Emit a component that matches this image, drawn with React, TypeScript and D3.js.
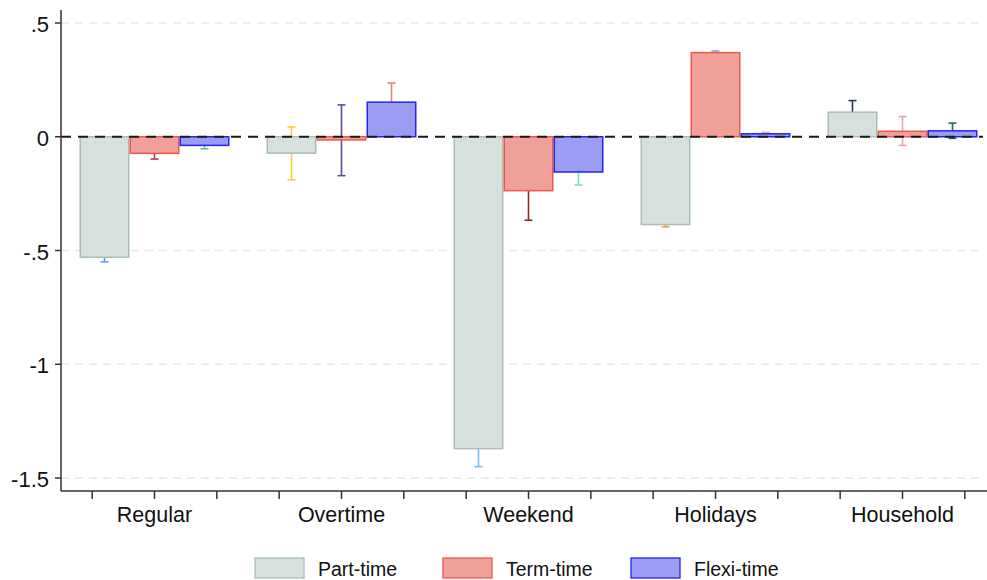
import React from "react";
import * as d3 from "d3";

const categories = ["Regular", "Overtime", "Weekend", "Holidays", "Household"];
const seriesNames = ["Part-time", "Term-time", "Flexi-time"];

const partTime = [-0.53, -0.072, -1.371, -0.386, 0.108];
const termTime = [-0.073, -0.014, -0.237, 0.37, 0.024];
const flexiTime = [-0.038, 0.152, -0.155, 0.013, 0.026];

const partLo = [-0.55, -0.189, -1.45, -0.396, 0.057];
const partHi = [-0.51, 0.043, -1.292, -0.376, 0.159];
const termLo = [-0.098, -0.171, -0.367, 0.363, -0.038];
const termHi = [-0.048, 0.14, -0.107, 0.377, 0.089];
const flexiLo = [-0.053, 0.068, -0.212, 0.007, -0.007];
const flexiHi = [-0.023, 0.236, -0.098, 0.019, 0.06];

const yTicks = [0.5, 0, -0.5, -1, -1.5];
const yTickLabels = [".5", "0", "-.5", "-1", "-1.5"];

const seriesValues = [partTime, termTime, flexiTime];
const seriesLo = [partLo, termLo, flexiLo];
const seriesHi = [partHi, termHi, flexiHi];

const fills = ["#d6e0dd", "#f0a099", "#9b9cf3"];
const strokes = ["#aabdb6", "#e95a4c", "#2424ee"];
// error bar colours, per series then per category
const ciColors = [
  ["#5b9cf5", "#f6d03e", "#78c2f7", "#e9a24c", "#27385a"],
  ["#c0394f", "#5c4a9c", "#8b2a2a", "#9a9ae6", "#f0a0b4"],
  ["#5fc690", "#f0806a", "#7ae8b6", "#f0a890", "#2c5c66"],
];

const FONT = "'Liberation Sans', Arial, Helvetica, sans-serif";

export default function App() {
  const W = 987;
  const H = 580;
  const axisX = 61;
  const x = d3
    .scaleBand<string>()
    .domain(categories)
    .range([61, 996])
    .paddingInner(37 / 187)
    .paddingOuter(37 / 187 / 2);
  const xs = d3.scaleBand<string>().domain(seriesNames).range([0, x.bandwidth()]);
  const y = d3.scaleLinear().domain([-1.5, 0.5]).range([478, 23]);
  const yTop = y(0.557);
  const yBot = y(-1.557);
  const step = x.step();
  const capW = 8;

  const tickXs: number[] = [];
  categories.forEach((c) => {
    const cx = (x(c) as number) + x.bandwidth() / 2;
    tickXs.push(cx - step / 3, cx, cx + step / 3);
  });

  return (
    <svg
      width={W}
      height={H}
      style={{ position: "absolute", left: 0, top: 0, background: "#fff" }}
      fontFamily={FONT}
    >
      <rect x={0} y={0} width={W} height={H} fill="#fff" />
      {/* gridlines */}
      {yTicks
        .filter((t) => t !== 0)
        .map((t) => (
          <line
            key={"g" + t}
            x1={axisX}
            x2={980}
            y1={y(t)}
            y2={y(t)}
            stroke="#e8e8e8"
            strokeWidth={1.3}
            strokeDasharray="8,6"
          />
        ))}
      {/* error bars */}
      {seriesNames.map((s, si) =>
        categories.map((c, ci) => {
          const cx = (x(c) as number) + (xs(s) as number) + xs.bandwidth() / 2;
          const lo = y(seriesLo[si][ci]);
          const hi = y(seriesHi[si][ci]);
          const col = ciColors[si][ci];
          return (
            <g key={"e" + si + ci} stroke={col} strokeWidth={1.6}>
              <line x1={cx} x2={cx} y1={lo} y2={hi} />
              <line x1={cx - capW / 2} x2={cx + capW / 2} y1={lo} y2={lo} />
              <line x1={cx - capW / 2} x2={cx + capW / 2} y1={hi} y2={hi} />
            </g>
          );
        })
      )}
      {/* bars */}
      {seriesNames.map((s, si) =>
        categories.map((c, ci) => {
          const v = seriesValues[si][ci];
          const bx = (x(c) as number) + (xs(s) as number);
          const y0 = y(0);
          const y1 = y(v);
          return (
            <rect
              key={"b" + si + ci}
              x={bx + 0.75}
              y={Math.min(y0, y1)}
              width={xs.bandwidth() - 1.5}
              height={Math.max(Math.abs(y1 - y0), 1)}
              fill={fills[si]}
              stroke={strokes[si]}
              strokeWidth={1.5}
            />
          );
        })
      )}
      {/* zero line */}
      <line
        x1={axisX}
        x2={983}
        y1={y(0)}
        y2={y(0)}
        stroke="#1a1a1a"
        strokeWidth={2}
        strokeDasharray="10,7"
      />
      {/* y axis */}
      <line x1={axisX} x2={axisX} y1={yTop} y2={yBot} stroke="#333" strokeWidth={1.5} />
      {yTicks.map((t, i) => (
        <g key={"yt" + t}>
          <line x1={axisX - 6} x2={axisX} y1={y(t)} y2={y(t)} stroke="#333" strokeWidth={1.5} />
          <text x={49} y={y(t) + 9} textAnchor="end" fontSize={22} fill="#111">
            {yTickLabels[i]}
          </text>
        </g>
      ))}
      {/* x axis */}
      <line x1={axisX} x2={W} y1={yBot} y2={yBot} stroke="#333" strokeWidth={1.5} />
      {tickXs.map((tx, i) => (
        <line key={"xt" + i} x1={tx} x2={tx} y1={yBot} y2={yBot + 8} stroke="#333" strokeWidth={1.5} />
      ))}
      {categories.map((c) => (
        <text
          key={"xl" + c}
          x={(x(c) as number) + x.bandwidth() / 2}
          y={522}
          textAnchor="middle"
          fontSize={21.5}
          fill="#111"
        >
          {c}
        </text>
      ))}
      {/* legend */}
      {seriesNames.map((s, si) => {
        const lx = 255 + si * 188;
        return (
          <g key={"lg" + s}>
            <rect
              x={lx}
              y={558}
              width={49}
              height={20}
              fill={fills[si]}
              stroke={strokes[si]}
              strokeWidth={1.3}
            />
            <text x={lx + 63} y={576} fontSize={19.5} fill="#111">
              {s}
            </text>
          </g>
        );
      })}
    </svg>
  );
}
